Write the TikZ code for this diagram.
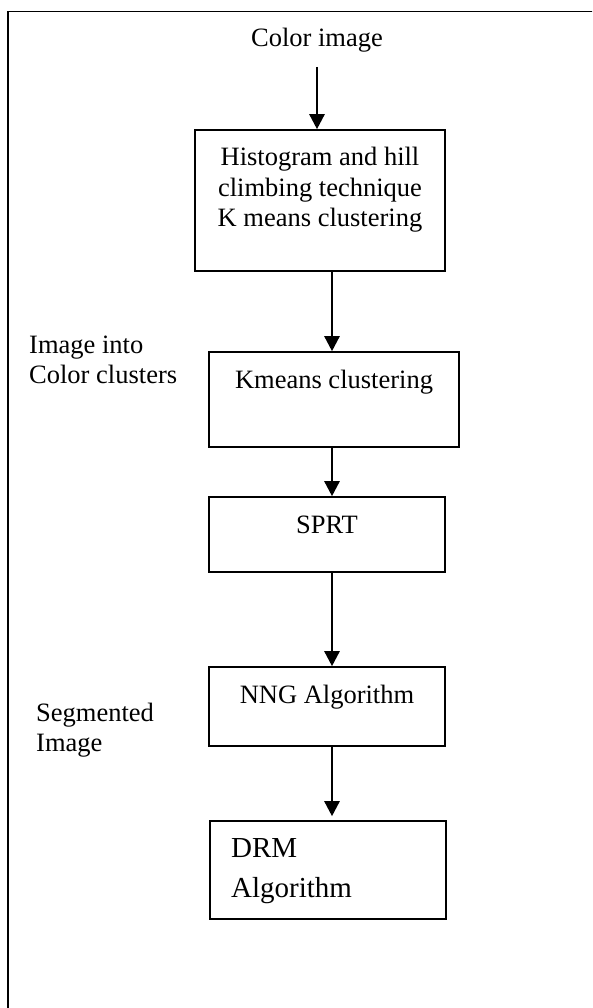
\documentclass[tikz,border=0pt]{standalone}
\usepackage{fontspec}
\setmainfont{Liberation Serif}
\usetikzlibrary{arrows.meta}
\begin{document}
\begin{tikzpicture}[x=1pt,y=-1pt,
  txt/.style={inner sep=0pt,font=\fontsize{26.5}{30.5}\selectfont},
  bigtxt/.style={inner sep=0pt,font=\fontsize{29}{40}\selectfont},
  boxnode/.style={draw,line width=1.6pt,inner sep=0pt},
  arr/.style={line width=2.5pt,-{Triangle[width=15pt,length=15pt]}}]
\useasboundingbox (0,0) rectangle (592,1008);
\clip (0,0) rectangle (592,1008);
% frame
\draw[line width=1.9pt] (8,11.5) rectangle (640,1060);
% boxes
\node[boxnode,minimum width=250pt,minimum height=141pt] (b1) at (320,200.5) {};
\node[boxnode,minimum width=250pt,minimum height=95pt] (b2) at (334,399.5) {};
\node[boxnode,minimum width=236pt,minimum height=75pt] (b3) at (327,534.5) {};
\node[boxnode,minimum width=236pt,minimum height=79pt] (b4) at (327,706.5) {};
\node[boxnode,minimum width=236pt,minimum height=98pt] (b5) at (328,870) {};
% texts
\node[txt,anchor=base] (t0) at (317,47) {Color image};
\node[txt,anchor=base] (t1) at (320,166) {\begin{tabular}[t]{@{}c@{}}Histogram and hill\\climbing technique\\K means clustering\end{tabular}};
\node[txt,anchor=base] (t2) at (334,388) {Kmeans clustering};
\node[txt,anchor=base] (t3) at (327,533) {SPRT};
\node[txt,anchor=base] (t4) at (327,703) {NNG Algorithm};
\node[bigtxt,anchor=base west] (t5) at (231,857) {\begin{tabular}[t]{@{}l@{}}DRM\\Algorithm\end{tabular}};
\node[txt,anchor=base west] (l1) at (29,353) {\begin{tabular}[t]{@{}l@{}}Image into\\Color clusters\end{tabular}};
\node[txt,anchor=base west] (l2) at (36,721) {\begin{tabular}[t]{@{}l@{}}Segmented\\Image\end{tabular}};
% arrows
\draw[arr,shorten <=14pt] (t0.south) -- (t0.south |- b1.north);
\draw[arr] ([xshift=12pt]b1.south) -- ([xshift=12pt]b1.south |- b2.north);
\draw[arr] ([xshift=-2pt]b2.south) -- ([xshift=-2pt]b2.south |- b3.north);
\draw[arr] ([xshift=5pt]b3.south) -- ([xshift=5pt]b3.south |- b4.north);
\draw[arr,shorten >=4pt] ([xshift=5pt]b4.south) -- ([xshift=5pt]b4.south |- b5.north);
\end{tikzpicture}
\end{document}
